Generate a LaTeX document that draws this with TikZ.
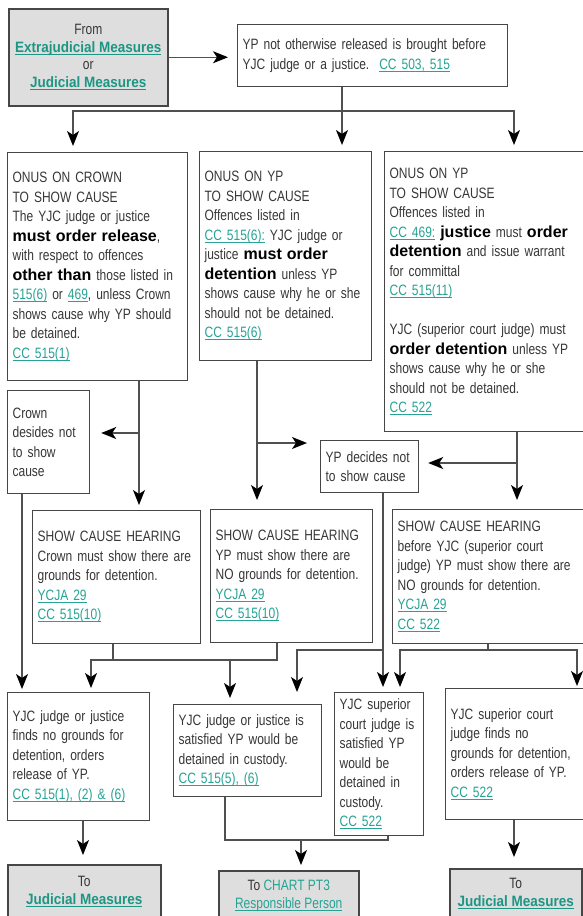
\documentclass[tikz,border=0pt]{standalone}
\usepackage{fontspec}
\usetikzlibrary{arrows.meta}
\setmainfont{Liberation Sans}[FakeStretch=0.8]
\newfontfamily\widefont{Liberation Sans}
\newfontfamily\linkbold{Liberation Sans}[FakeStretch=0.9]
\definecolor{linkc}{RGB}{38,163,148}
\definecolor{linkb}{RGB}{28,150,132}
\definecolor{txtc}{RGB}{55,55,55}
\definecolor{lnc}{RGB}{80,80,80}
\definecolor{bordc}{RGB}{70,70,70}
\definecolor{grayfill}{RGB}{222,222,222}
\newsavebox\ulbox
\newcommand\myul[1]{\leavevmode\sbox\ulbox{#1}\rlap{\rule[-2.4pt]{\wd\ulbox}{0.8pt}}\usebox\ulbox}
\newcommand\B[1]{{\widefont\fontsize{16}{19.5}\selectfont\bfseries\color{black}#1}}
\newcommand\lk[1]{{\color{linkc}\myul{#1}}}
\newcommand\lkb[1]{{\color{linkb}\linkbold\bfseries\myul{#1}}}
\newcommand\J[1]{\makebox[156pt][s]{#1}}
\begin{document}
\begin{tikzpicture}[x=1pt,y=-1pt,
  fs/.style={font=\fontsize{15}{19.5}\selectfont},
  box/.style={draw=bordc, line width=1.2pt, fill=white, text=txtc, align=left,
    inner xsep=5pt, inner ysep=0pt, anchor=north west, fs},
  gbox/.style={draw=bordc, line width=1.5pt, fill=grayfill, text=txtc, align=center,
    anchor=north west, inner sep=0pt, font=\fontsize{15}{17.5}\selectfont},
  ln/.style={draw=lnc, line width=1.4pt, line cap=rect},
  arr/.style={ln, -{Stealth[length=15pt,width=12pt,inset=4pt,color=black]}}
]
\useasboundingbox (0,0) rectangle (582,916);

% boxes
\node[gbox, minimum width=159pt, minimum height=97pt] (A) at (8,8)
  {From\\\lkb{Extrajudicial Measures}\\or\\\lkb{Judicial Measures}};
\node[box, text width=260pt, minimum height=62pt] (B) at (237,24)
  {YP not otherwise released is brought before\\YJC judge or a justice.\ \ \lk{CC 503, 515}};
\node[box, text width=170pt, minimum height=228pt] (C1) at (7,152)
  {ONUS ON CROWN\\TO SHOW CAUSE\\The YJC judge or justice\\\B{must order release},\\
   with respect to offences\\\B{other than} those listed in\\\lk{515(6)} or \lk{469}, unless Crown\\
   shows cause why YP should\\be detained.\\\lk{CC 515(1)}};
\node[box, text width=162pt, minimum height=209pt] (C2) at (199,151)
  {ONUS ON YP\\TO SHOW CAUSE\\Offences listed in\\\J{\lk{CC 515(6):} YJC judge or}\\
   \J{justice \B{must order}}\\\J{\B{detention} unless YP}\\shows cause why he or she\\
   should not be detained.\\\lk{CC 515(6)}};
\node[box, text width=190pt, minimum height=280pt] (C3) at (384,151)
  {ONUS ON YP\\TO SHOW CAUSE\\Offences listed in\\\lk{CC 469:} \B{justice} must \B{order}\\
   \B{detention} and issue warrant\\for committal\\\lk{CC 515(11)}\\[19.5pt]
   YJC (superior court judge) must\\\B{order detention} unless YP\\shows cause why he or she\\
   should not be detained.\\\lk{CC 522}};
\node[box, text width=72pt, minimum height=103pt] (D1) at (7,390)
  {Crown\\desides not\\to show\\cause};
\node[box, text width=88pt, minimum height=52pt] (D2) at (320,440)
  {YP decides not\\to show cause};
\node[box, text width=158pt, minimum height=133pt] (E1) at (32,510)
  {SHOW CAUSE HEARING\\Crown must show there are\\grounds for detention.\\\lk{YCJA 29}\\\lk{CC 515(10)}};
\node[box, text width=152pt, minimum height=133pt] (E2) at (210,509)
  {SHOW CAUSE HEARING\\YP must show there are\\NO grounds for detention.\\\lk{YCJA 29}\\\lk{CC 515(10)}};
\node[box, text width=182pt, minimum height=134pt] (E3) at (392,509)
  {SHOW CAUSE HEARING\\before YJC (superior court\\judge) YP must show there are\\NO grounds for detention.\\\lk{YCJA 29}\\\lk{CC 522}};
\node[box, text width=132pt, minimum height=128pt] (F1) at (7,692)
  {YJC judge or justice\\finds no grounds for\\detention, orders\\release of YP.\\\lk{CC 515(1), (2) \& (6)}};
\node[box, text width=138pt, minimum height=92pt] (F2) at (173,704)
  {YJC judge or justice is\\satisfied YP would be\\detained in custody.\\\lk{CC 515(5), (6)}};
\node[box, text width=79pt, minimum height=143pt] (F4) at (334,692)
  {YJC superior\\court judge is\\satisfied YP\\would be\\detained in\\custody.\\\lk{CC 522}};
\node[box, text width=129pt, minimum height=131pt] (F5) at (445,688)
  {YJC superior court\\judge finds no\\grounds for detention,\\orders release of YP.\\\lk{CC 522}};
\node[gbox, minimum width=153pt, minimum height=54pt] (G1) at (7,864)
  {To\\\lkb{Judicial Measures}};
\node[gbox, minimum width=140pt, minimum height=50pt] (G2) at (218,870)
  {To {\color{linkc}CHART PT3}\\\lk{Responsible Person}};
\node[gbox, minimum width=132pt, minimum height=50pt] (G3) at (449,868)
  {To\\\lkb{Judicial Measures}};

% connectors
\draw[arr, shorten >=9pt] (A.east) -- (A.east -| B.west);

\coordinate (jB) at (342,111);
\coordinate (jBl) at (73,111);
\coordinate (jBr) at (514,111);
\draw[ln] (B.south -| jB) -- (jB);
\draw[ln] (jBl) -- (jBr);
\draw[arr, shorten >=6pt] (jBl) -- (jBl |- C1.north);
\draw[arr, shorten >=6pt] (jB) -- (jB |- C2.north);
\draw[arr, shorten >=6pt] (jBr) -- (jBr |- C3.north);

\coordinate (kC1) at (139,433);
\draw[arr, shorten >=5pt] (C1.south -| kC1) -- (kC1 |- E1.north);
\draw[arr, shorten >=11pt] (kC1) -- (kC1 -| D1.east);

\coordinate (kC2) at (257,443);
\draw[arr, shorten >=9pt] (C2.south -| kC2) -- (kC2 |- E2.north);
\draw[arr, shorten >=13pt] (kC2) -- (kC2 -| D2.west);

\coordinate (kC3) at (517,463);
\draw[arr, shorten >=9pt] (C3.south -| kC3) -- (kC3 |- E3.north);
\draw[arr, shorten >=9pt] (kC3) -- (kC3 -| D2.east);

\coordinate (xD1) at (22,0);
\draw[arr, shorten >=3pt] (D1.south -| xD1) -- (xD1 |- F1.north);

\coordinate (hE) at (91,660);
\coordinate (hE2) at (277,660);
\coordinate (xE1) at (113,660);
\coordinate (aF2) at (230,660);
\draw[ln] (E1.south -| xE1) -- (xE1);
\draw[ln] (E2.south -| hE2) -- (hE2) -- (hE);
\draw[arr, shorten >=4pt] (hE) -- (hE |- F1.north);
\draw[arr, shorten >=6pt] (aF2) -- (aF2 |- F2.north);

\coordinate (xD2) at (383,650);
\coordinate (hD2) at (297,650);
\draw[arr, shorten >=5pt] (D2.south -| xD2) -- (xD2 |- F4.north);
\draw[ln] (xD2) -- (hD2);
\draw[arr, shorten >=12pt] (hD2) -- (hD2 |- F2.north);

\coordinate (xE3) at (488,650);
\coordinate (hE3l) at (400,650);
\coordinate (hE3r) at (577,650);
\draw[ln] (E3.south -| xE3) -- (xE3);
\draw[ln] (hE3l) -- (hE3r);
\draw[arr, shorten >=5pt] (hE3l) -- (hE3l |- F4.north);
\draw[arr, shorten >=2pt] (hE3r) -- (hE3r |- F5.north);

\coordinate (xF1) at (83,0);
\draw[arr, shorten >=9pt] (F1.south -| xF1) -- (xF1 |- G1.north);

\coordinate (hF2) at (225,840);
\coordinate (hF4) at (388,840);
\coordinate (aG2) at (301,840);
\draw[ln] (F2.south -| hF2) -- (hF2) -- (hF4) -- (hF4 |- F4.south);
\draw[arr, shorten >=5pt] (aG2) -- (aG2 |- G2.north);

\coordinate (xF5) at (514,0);
\draw[arr, shorten >=11pt] (F5.south -| xF5) -- (xF5 |- G3.north);
\end{tikzpicture}
\end{document}
